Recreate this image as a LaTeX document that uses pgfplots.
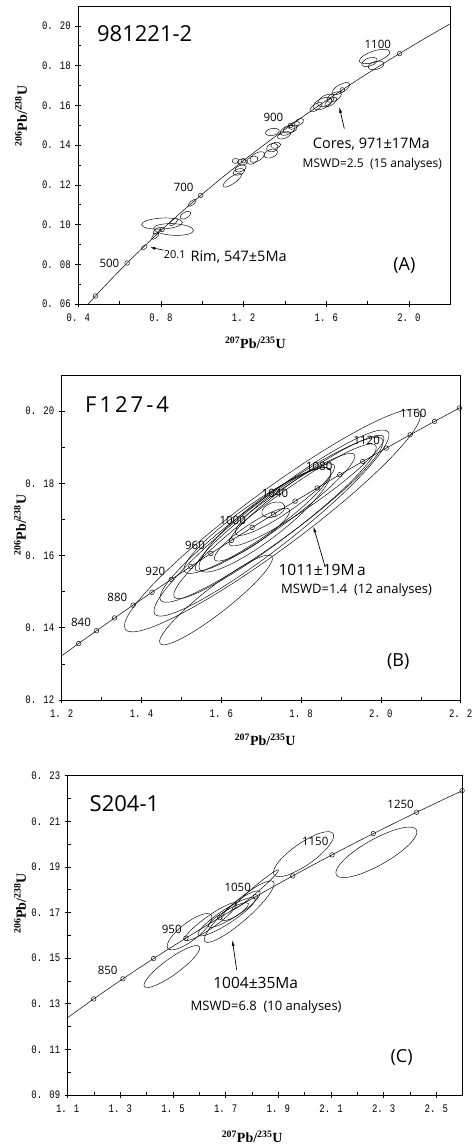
\documentclass[border=0pt]{standalone}
\usepackage{pgfplots}
\pgfplotsset{compat=1.18}
\usepackage{pgfplotstable}
\usepackage{fontspec}
\setmainfont{Open Sans}
\newfontfamily\tnr{Liberation Serif}
\newfontfamily\tickf[FakeStretch=0.78]{Liberation Mono}
\usetikzlibrary{arrows.meta}

\def\elA{1}\def\elB{1}\def\elR{0}
\def\parseell#1/#2/#3\relax{\def\elA{#1}\def\elB{#2}\def\elR{#3}}
\pgfdeclareplotmark{ell}{%
  \pgfscope
  \pgftransformrotate{\elR}%
  \pgfpathellipse{\pgfpointorigin}{\pgfqpoint{\elA pt}{0pt}}{\pgfqpoint{0pt}{\elB pt}}%
  \pgfusepathqstroke
  \endpgfscope}

% concordia (t in Ma): 207Pb/235U, 206Pb/238U
\pgfplotstableread{
x y
0.41156 0.05580
0.48281 0.06402
0.55766 0.07230
0.63628 0.08065
0.71887 0.08906
0.80563 0.09754
0.89677 0.10609
0.99251 0.11470
1.09308 0.12338
1.19873 0.13213
1.24247 0.13565
1.28708 0.13918
1.30971 0.14094
1.33257 0.14272
1.37897 0.14627
1.42630 0.14983
1.47456 0.15340
1.52378 0.15699
1.54876 0.15878
1.57399 0.16058
1.62519 0.16419
1.67741 0.16780
1.73067 0.17143
1.78499 0.17507
1.81255 0.17690
1.84039 0.17872
1.89689 0.18239
1.95452 0.18606
2.01329 0.18975
2.07323 0.19344
2.10365 0.19530
2.13436 0.19715
2.19671 0.20087
2.26030 0.20460
2.42487 0.21398
2.59774 0.22344
2.77933 0.23296
}\conc

\pgfplotstableread{
x y
0.48281 0.06402
0.63628 0.08065
0.80563 0.09754
0.99251 0.11470
1.19873 0.13213
1.42630 0.14983
1.67741 0.16780
1.95452 0.18606
}\markA

\pgfplotstableread{
x y
1.24247 0.13565
1.28708 0.13918
1.33257 0.14272
1.37897 0.14627
1.42630 0.14983
1.47456 0.15340
1.52378 0.15699
1.57399 0.16058
1.62519 0.16419
1.67741 0.16780
1.73067 0.17143
1.78499 0.17507
1.84039 0.17872
1.89689 0.18239
1.95452 0.18606
2.01329 0.18975
2.07323 0.19344
2.13436 0.19715
2.19671 0.20087
}\markB

\pgfplotstableread{
x y
1.19873 0.13213
1.30971 0.14094
1.42630 0.14983
1.54876 0.15878
1.67741 0.16780
1.81255 0.17690
1.95452 0.18606
2.10365 0.19530
2.26030 0.20460
2.42487 0.21398
2.59774 0.22344
}\markC

% error ellipses: centre x y; m = semi-axis a / semi-axis b (pt) / rotation (deg)
\pgfplotstableread{
x y m
0.719 0.0885 3.5/1.8/40
0.772 0.0942 4.5/2/40
0.780 0.0969 4.5/2/40
0.805 0.1005 20.5/5.5/3
0.861 0.0975 20/5.8/-3
0.861 0.1014 5/2.5/45
0.918 0.1047 6/3/30
0.951 0.1109 5/2/40
1.145 0.1223 11/3.5/35
1.161 0.1320 3.5/2.5/0
1.194 0.1315 5/3/0
1.185 0.1282 6/3/20
1.177 0.1265 6/3/15
1.242 0.1324 6/3.5/25
1.266 0.1340 8/4/30
1.331 0.1357 7/4/20
1.339 0.1387 6/4/15
1.355 0.1399 5/3/10
1.339 0.1466 7/3.5/10
1.396 0.1449 7/3/20
1.412 0.1474 8/4/25
1.425 0.1480 7/3.5/15
1.444 0.1499 6/3/30
1.468 0.1516 5/3/30
1.550 0.1591 7/3/35
1.582 0.1609 10/5/25
1.598 0.1625 9/5/30
1.622 0.1617 7/3/35
1.638 0.1642 8/4/30
1.670 0.1684 10/4/30
1.834 0.1846 16/5.5/18
1.809 0.1818 8/4/20
1.841 0.1801 8/4/15
}\ellA

\pgfplotstableread{
x y m
1.7283 0.1697 183/29/36.5
1.7258 0.1690 148/24/38
1.7258 0.1699 137/22/36
1.7346 0.1695 126/19/37
1.7346 0.1720 98/15/36
1.5867 0.1477 71/13/38
1.6907 0.1697 89/17/35
1.6769 0.1658 45/10/34
1.7303 0.1727 12/7/20
1.7596 0.1755 60/12/35
1.8135 0.1780 94/15/35
1.7095 0.1699 82/19/37.6
}\ellB

\pgfplotstableread{
x y m
1.4955 0.1463 34/8/36
1.9957 0.1956 36/11/35
2.2722 0.1964 46/13/29.4
1.5627 0.1616 27.4/9/37.5
1.7513 0.1704 45.5/10/41
1.8120 0.1799 30.7/3/40.6
1.6428 0.1660 31.7/6/35.4
1.7034 0.1682 33.7/7/33
1.7099 0.1689 23.2/5/30
1.7578 0.1730 23.8/6/36.5
}\ellC

\pgfplotsset{
  ellstyle/.style={scatter, only marks, mark=ell, black, line width=0.45pt,
    point meta=explicit symbolic,
    scatter/@pre marker code/.code={\expandafter\parseell\pgfplotspointmeta\relax},
    scatter/@post marker code/.code={}},
  concline/.style={black, line width=0.5pt, no marks},
  cmark/.style={only marks, mark=o, mark size=2.3pt, mark options={fill=white, draw=black, line width=0.45pt}},
  panel/.style={scale only axis, anchor=south west,
    axis line style={line width=0.7pt},
    tick align=center, xtick pos=bottom, ytick pos=left,
    major tick length=6pt, minor tick length=3pt,
    minor x tick style={yshift=1.5pt}, minor y tick style={xshift=1.5pt},
    tick style={black, line width=0.6pt},
    xticklabel style={font=\tickf\fontsize{11.5}{11.5}\selectfont, yshift=-3pt},
    yticklabel style={font=\tickf\fontsize{11.5}{11.5}\selectfont, xshift=-1pt},
    xlabel={\tnr\bfseries\fontsize{14}{14}\selectfont\textsuperscript{207}Pb/\textsuperscript{235}U},
    ylabel={\tnr\bfseries\fontsize{14}{14}\selectfont\textsuperscript{206}Pb/\textsuperscript{238}U},
  },
}
\tikzset{
  num/.style={font=\fontsize{11.5}{11.5}\selectfont, inner sep=0pt},
  big/.style={font=\fontsize{14.5}{14.5}\selectfont, inner sep=0pt, anchor=west},
  bigg/.style={font=\fontsize{15.5}{15.5}\selectfont, inner sep=0pt, anchor=west},
  small/.style={font=\fontsize{12}{12}\selectfont, inner sep=0pt, anchor=west},
  smallb/.style={font=\fontsize{13}{13}\selectfont, inner sep=0pt, anchor=west},
  ttl/.style={font=\fontsize{22}{22}\selectfont, inner sep=0pt, anchor=west},
  plab/.style={font=\fontsize{18}{18}\selectfont, inner sep=0pt},
}

\begin{document}
\begin{tikzpicture}
\useasboundingbox (0,0) rectangle (471pt,-1145pt);

% ---------------- Panel A ----------------
\begin{axis}[panel, at={(78.3pt,-304pt)}, width=372pt, height=298pt,
  xmin=0.4, xmax=2.2, ymin=0.06, ymax=0.21,
  xtick={0.4,0.8,1.2,1.6,2.0}, xticklabels={0. 4,0. 8,1. 2,1. 6,2. 0},
  minor xtick={0.6,1.0,1.4,1.8},
  ytick={0.06,0.08,0.10,0.12,0.14,0.16,0.18,0.20},
  yticklabels={0. 06,0. 08,0. 10,0. 12,0. 14,0. 16,0. 18,0. 20},
  minor ytick={0.07,0.09,0.11,0.13,0.15,0.17,0.19},
  xlabel style={at={(axis description cs:0.476,-0.131)}, anchor=center},
  ylabel style={at={(axis description cs:-0.154,0.631)}, anchor=center},
]
\addplot[concline] table {\conc};
\addplot[ellstyle] table[meta=m] {\ellA};
\addplot[cmark] table {\markA};
\node[ttl] at (axis cs:0.49,0.1962) {981221-2};
\node[num] at (axis cs:0.5506,0.0805) {500};
\node[num] at (axis cs:0.910,0.1189) {700};
\node[num] at (axis cs:1.344,0.1541) {900};
\node[num] at (axis cs:1.849,0.1905) {1100};
\node[big] at (axis cs:1.534,0.1404) {Cores, 971±17Ma};
\node[small] at (axis cs:1.485,0.1303) {MSWD=2.5\ \ (15 analyses)};
\draw[line width=0.7pt, -{Latex[length=6pt,width=3pt]}] (axis cs:1.687,0.1483) -- (axis cs:1.663,0.1592);
\draw[line width=0.6pt, -{Latex[length=5pt,width=3pt]}] (axis cs:0.813,0.0871) -- (axis cs:0.748,0.0885);
\node[small, font=\fontsize{11}{11}\selectfont] at (axis cs:0.8128,0.0851) {20.1};
\node[big] at (axis cs:0.9425,0.0838) {Rim, 547±5Ma};
\node[plab] at (axis cs:1.978,0.0796) {(A)};
\end{axis}

% ---------------- Panel B ----------------
\begin{axis}[panel, at={(61.7pt,-700pt)}, width=399pt, height=325pt,
  xmin=1.2, xmax=2.2, ymin=0.12, ymax=0.21,
  xtick={1.2,1.4,1.6,1.8,2.0,2.2}, xticklabels={1. 2,1. 4,1. 6,1. 8,2. 0,2. 2},
  minor xtick={1.3,1.5,1.7,1.9,2.1},
  ytick={0.12,0.14,0.16,0.18,0.20},
  yticklabels={0. 12,0. 14,0. 16,0. 18,0. 20},
  minor ytick={0.13,0.15,0.17,0.19},
  xlabel style={at={(axis description cs:0.51,-0.123)}, anchor=center},
  ylabel style={at={(axis description cs:-0.1045,0.538)}, anchor=center},
]
\addplot[concline] table {\conc};
\addplot[ellstyle] table[meta=m] {\ellB};
\addplot[cmark] table {\markB};
\node[ttl] at (axis cs:1.2584,0.2019) {F\hspace{3pt}1\hspace{3pt}2\hspace{3pt}7\hspace{3pt}-\hspace{3pt}4};
\node[num] at (axis cs:1.2484,0.1416) {840};
\node[num] at (axis cs:1.3394,0.1484) {880};
\node[num] at (axis cs:1.4346,0.1556) {920};
\node[num] at (axis cs:1.5341,0.1628) {960};
\node[num] at (axis cs:1.6286,0.1698) {1000};
\node[num] at (axis cs:1.7346,0.1772) {1040};
\node[num] at (axis cs:1.8456,0.1847) {1080};
\node[num] at (axis cs:1.9644,0.1920) {1120};
\node[num] at (axis cs:2.0812,0.1995) {1160};
\node[bigg] at (axis cs:1.7429,0.1561) {1011±19M\,a};
\node[smallb] at (axis cs:1.7496,0.1505) {MSWD=1.4\ \ (12 analyses)};
\draw[line width=0.7pt, -{Latex[length=6pt,width=3pt]}] (axis cs:1.8599,0.1570) -- (axis cs:1.8306,0.1681);
\node[plab] at (axis cs:2.0436,0.1306) {(B)};
\end{axis}

% ---------------- Panel C ----------------
\begin{axis}[panel, at={(67.7pt,-1095pt)}, width=395pt, height=319.3pt,
  xmin=1.1, xmax=2.6, ymin=0.09, ymax=0.23,
  xtick={1.1,1.3,1.5,1.7,1.9,2.1,2.3,2.5}, xticklabels={1. 1,1. 3,1. 5,1. 7,1. 9,2. 1,2. 3,2. 5},
  minor xtick={1.2,1.4,1.6,1.8,2.0,2.2,2.4},
  ytick={0.09,0.11,0.13,0.15,0.17,0.19,0.21,0.23},
  yticklabels={0. 09,0. 11,0. 13,0. 15,0. 17,0. 19,0. 21,0. 23},
  minor ytick={0.10,0.12,0.14,0.16,0.18,0.20,0.22},
  xlabel style={at={(axis description cs:0.467,-0.131)}, anchor=center},
  ylabel style={at={(axis description cs:-0.1208,0.600)}, anchor=center},
]
\addplot[concline] table {\conc};
\addplot[ellstyle] table[meta=m] {\ellC};
\addplot[cmark] table {\markC};
\node[ttl] at (axis cs:1.1829,0.2179) {S204-1};
\node[num] at (axis cs:1.2519,0.1448) {850};
\node[num] at (axis cs:1.4951,0.1627) {950};
\node[num] at (axis cs:1.7456,0.1809) {1050};
\node[num] at (axis cs:2.0398,0.2012) {1150};
\node[num] at (axis cs:2.3643,0.2176) {1250};
\node[bigg] at (axis cs:1.6524,0.1393) {1004±35Ma};
\node[smallb] at (axis cs:1.5664,0.1285) {MSWD=6.8\ \ (10 analyses)};
\draw[line width=0.7pt, -{Latex[length=6pt,width=3pt]}] (axis cs:1.7417,0.1448) -- (axis cs:1.7252,0.1580);
\node[plab] at (axis cs:2.368,0.1065) {(C)};
\end{axis}
\end{tikzpicture}
\end{document}
